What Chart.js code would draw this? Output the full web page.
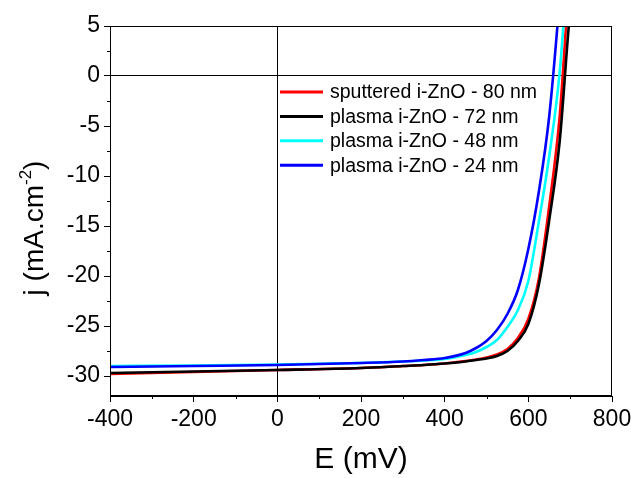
<!DOCTYPE html>
<html>
<head>
<meta charset="utf-8">
<script src="https://cdn.jsdelivr.net/npm/chart.js@4.4.0/dist/chart.umd.min.js"></script>
<style>
  html, body { margin: 0; padding: 0; background: #fff; }
</style>
</head>
<body>
<canvas id="jvChart" width="631" height="478"></canvas>
<script>
// J-V curves, voltage in mV, current density in mA/cm2
const voltage = [-400, -200, 0, 200, 300, 350, 400, 450, 475, 500, 525, 550, 575, 600, 625, 650, 675, 700, 725];
const sputtered80 = [-29.8, -29.6, -29.4, -29.2, -29.0, -28.9, -28.75, -28.5, -28.35, -28.15, -27.85, -27.3, -26.2, -24.3, -20.3, -13.0, -4.0, 10.6, 18];
const plasma72 = [-29.7, -29.55, -29.4, -29.2, -29.0, -28.9, -28.75, -28.55, -28.4, -28.25, -28.0, -27.5, -26.5, -24.8, -20.9, -14.4, -6.5, 6.5, 14];
const plasma48 = [-29.0, -28.95, -28.85, -28.7, -28.55, -28.45, -28.3, -27.9, -27.6, -27.1, -26.4, -25.1, -23.4, -20.5, -14.6, -8.0, 0.4, 14, 22];
const plasma24 = [-29.1, -29.0, -28.9, -28.7, -28.55, -28.4, -28.2, -27.7, -27.2, -26.5, -25.4, -23.8, -21.4, -17.3, -11.6, -4.0, 7.8, 22, 30];

const seriesNames = ['sputtered i-ZnO - 80 nm', 'plasma i-ZnO - 72 nm', 'plasma i-ZnO - 48 nm', 'plasma i-ZnO - 24 nm'];
const seriesValues = [sputtered80, plasma72, plasma48, plasma24];
const seriesColors = ['#ff0000', '#000000', '#00ffff', '#0000ff'];

const FONT = "'Liberation Sans', Arial, sans-serif";

const decorations = {
  id: 'decorations',
  afterDraw(chart) {
    const ctx = chart.ctx;
    const a = chart.chartArea;
    const xs = chart.scales.x, ys = chart.scales.y;
    ctx.save();
    ctx.strokeStyle = '#000';
    ctx.lineWidth = 1;

    // frame
    ctx.strokeRect(Math.round(a.left) + 0.5, Math.round(a.top) + 0.5,
      Math.round(a.right - a.left) - 1, Math.round(a.bottom - a.top) - 1);

    // minor ticks
    ctx.beginPath();
    for (let v = -300; v < 800; v += 200) {
      const px = Math.round(xs.getPixelForValue(v)) + 0.5;
      ctx.moveTo(px, a.bottom);
      ctx.lineTo(px, a.bottom + 3);
    }
    for (let v = 2.5; v > -32; v -= 5) {
      const py = Math.round(ys.getPixelForValue(v)) + 0.5;
      ctx.moveTo(a.left, py);
      ctx.lineTo(a.left - 3, py);
    }
    ctx.stroke();

    // legend
    ctx.font = '19.5px ' + FONT;
    ctx.textBaseline = 'middle';
    ctx.textAlign = 'left';
    ctx.fillStyle = '#000';
    seriesNames.forEach((name, i) => {
      const y = a.top + 66 + i * 24.4;
      ctx.beginPath();
      ctx.strokeStyle = seriesColors[i];
      ctx.lineWidth = 3;
      ctx.moveTo(a.left + 170, y);
      ctx.lineTo(a.left + 213, y);
      ctx.stroke();
      ctx.fillText(name, a.left + 220, y + 1);
    });

    // y axis title with superscript
    ctx.translate(43, 228);
    ctx.rotate(-Math.PI / 2);
    ctx.textBaseline = 'alphabetic';
    const main = 'j (mA.cm', sup = '-2', close = ')';
    ctx.font = '28px ' + FONT;
    const w1 = ctx.measureText(main).width, w3 = ctx.measureText(close).width;
    ctx.font = '17px ' + FONT;
    const w2 = ctx.measureText(sup).width;
    let x0 = -(w1 + w2 + w3) / 2;
    ctx.font = '28px ' + FONT;
    ctx.fillText(main, x0, 0);
    ctx.font = '17px ' + FONT;
    ctx.fillText(sup, x0 + w1, -12);
    ctx.font = '28px ' + FONT;
    ctx.fillText(close, x0 + w1 + w2, 0);
    ctx.restore();
  }
};

const ctx = document.getElementById('jvChart').getContext('2d');
new Chart(ctx, {
  type: 'line',
  data: {
    datasets: seriesValues.map((vals, i) => ({
      label: seriesNames[i],
      data: voltage.map((v, k) => ({ x: v, y: vals[k] })),
      borderColor: seriesColors[i],
      borderWidth: 2.6,
      pointRadius: 0,
      fill: false,
      cubicInterpolationMode: 'monotone',
      order: 4 - i
    }))
  },
  options: {
    responsive: false,
    animation: false,
    layout: { padding: { top: 26, right: 0, left: 0, bottom: 0 } },
    plugins: { legend: { display: false }, tooltip: { enabled: false } },
    scales: {
      x: {
        type: 'linear',
        min: -400, max: 800,
        afterFit: s => { s.height = 82; s.paddingRight = 19; },
        ticks: { stepSize: 200, color: '#000', font: { family: FONT, size: 23 }, padding: 4, maxRotation: 0 },
        grid: {
          color: c => (c.tick && c.tick.value === 0 ? '#000' : 'rgba(0,0,0,0)'),
          tickColor: '#000', tickLength: 6, lineWidth: 1
        },
        border: { display: true, color: '#000', width: 1 },
        title: { display: true, text: 'E (mV)', color: '#000', font: { family: FONT, size: 30 }, padding: { top: 0, bottom: 0 } }
      },
      y: {
        type: 'linear',
        min: -32, max: 5,
        afterFit: s => { s.width = 110; },
        ticks: { stepSize: 5, includeBounds: false, color: '#000', font: { family: FONT, size: 23 }, padding: 4 },
        grid: {
          color: c => (c.tick && c.tick.value === 0 ? '#000' : 'rgba(0,0,0,0)'),
          tickColor: '#000', tickLength: 6, lineWidth: 1
        },
        border: { display: true, color: '#000', width: 1 }
      }
    }
  },
  plugins: [decorations]
});
</script>
</body>
</html>
